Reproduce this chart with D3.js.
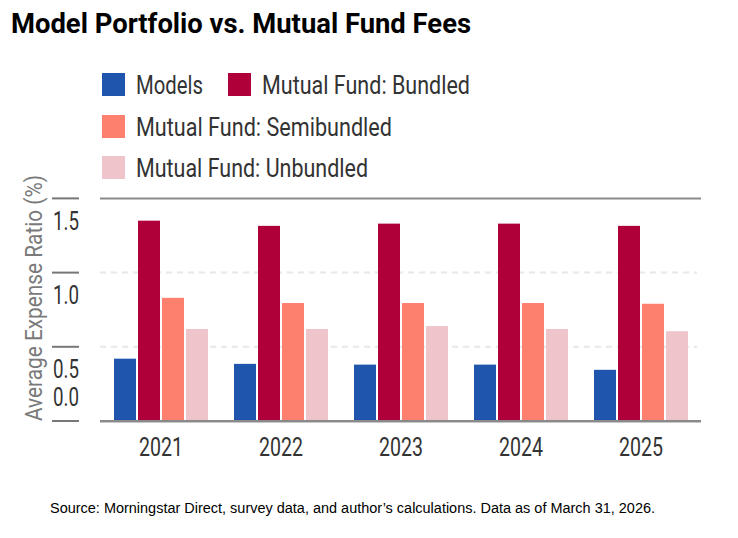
<!DOCTYPE html>
<html><head><meta charset="utf-8">
<script src="https://cdn.jsdelivr.net/npm/d3@7/dist/d3.min.js"></script>
<style>
html,body{margin:0;padding:0;background:#fff;}
svg{display:block;}
</style></head>
<body><svg id="chart" width="738" height="538"></svg>
<script>
const years = ["2021","2022","2023","2024","2025"];
const seriesNames = ["Models","Mutual Fund: Bundled","Mutual Fund: Semibundled","Mutual Fund: Unbundled"];
const models      = [0.42, 0.385, 0.38, 0.38, 0.345];
const bundled     = [1.35, 1.315, 1.33, 1.33, 1.315];
const semibundled = [0.83, 0.795, 0.795, 0.795, 0.79];
const unbundled   = [0.62, 0.62, 0.64, 0.62, 0.605];
const yTicks = [0, 0.5, 1.0, 1.5];
const colors = ["#1f55ad","#b0003a","#fd806f","#efc5cb"];

const seriesVals = [models, bundled, semibundled, unbundled];
const NARROW = "Roboto,'Liberation Sans Narrow','DejaVu Sans Condensed',sans-serif";
const svg = d3.select("#chart");

// title
svg.append("text").attr("x",11).attr("y",33)
  .attr("font-family",NARROW).attr("font-weight","bold").attr("font-size",28)
  .attr("fill","#000").attr("textLength",460).attr("lengthAdjust","spacingAndGlyphs")
  .text("Model Portfolio vs. Mutual Fund Fees");

// legend
const legendPos = [[102,73,203],[228,73,470],[102,115,392],[102,156,368]];
seriesNames.forEach((n,i)=>{
  const [lx,ly,ex] = legendPos[i];
  svg.append("rect").attr("x",lx).attr("y",ly).attr("width",23).attr("height",23).attr("fill",colors[i]);
  svg.append("text").attr("x",lx+34).attr("y",ly+21)
    .attr("font-family",NARROW).attr("font-size",25).attr("fill","#333")
    .attr("textLength",ex-(lx+34)).attr("lengthAdjust","spacingAndGlyphs").text(n);
});

// scales
const x0 = d3.scaleBand().domain(years).range([101,701]).paddingInner(0.2167).paddingOuter(0.2167/2);
const x1 = d3.scaleBand().domain(d3.range(4)).range([0,x0.bandwidth()]).paddingInner(2/24).paddingOuter(0);
const y = d3.scaleLinear().domain([0,1.5]).range([421,198.4]);

// gridlines
yTicks.forEach(t=>{
  const isEdge = (t===0 || t===1.5);
  svg.append("line").attr("x1",100).attr("x2",isEdge?701:697)
    .attr("y1",y(t)).attr("y2",y(t))
    .attr("stroke",isEdge?"#8a8a8a":"#e8e8e8").attr("stroke-width",2)
    .attr("stroke-dasharray",isEdge?null:"6,5");
  svg.append("line").attr("x1",52).attr("x2",79).attr("y1",y(t)).attr("y2",y(t))
    .attr("stroke","#777").attr("stroke-width",2);
  svg.append("text").attr("x",53).attr("y",Math.min(y(t)+25,y(0)-22))
    .attr("dominant-baseline","middle")
    .attr("font-family",NARROW).attr("font-size",25).attr("fill","#333")
    .attr("textLength",26).attr("lengthAdjust","spacingAndGlyphs")
    .text(d3.format(".1f")(t));
});

// bars
const g = svg.append("g");
years.forEach((yr,yi)=>{
  seriesVals.forEach((vals,si)=>{
    g.append("rect")
      .attr("x",x0(yr)+x1(si)).attr("width",x1.bandwidth())
      .attr("y",y(vals[yi])).attr("height",y(0)-y(vals[yi]))
      .attr("fill",colors[si]);
  });
});
// baseline over bars
svg.append("line").attr("x1",100).attr("x2",701).attr("y1",y(0)).attr("y2",y(0))
  .attr("stroke","#8a8a8a").attr("stroke-width",2);
svg.append("line").attr("x1",100).attr("x2",701).attr("y1",y(0)+1.5).attr("y2",y(0)+1.5)
  .attr("stroke","#c8c8c8").attr("stroke-width",1);

// x labels
years.forEach(yr=>{
  svg.append("text").attr("x",x0(yr)+x0.bandwidth()/2).attr("y",456)
    .attr("text-anchor","middle").attr("font-family",NARROW).attr("font-size",25)
    .attr("fill","#333").attr("textLength",44).attr("lengthAdjust","spacingAndGlyphs").text(yr);
});

// y title
svg.append("text").attr("transform","translate(42,298) rotate(-90)")
  .attr("text-anchor","middle").attr("font-family",NARROW).attr("font-size",24)
  .attr("fill","#7a7a7a").attr("textLength",246).attr("lengthAdjust","spacingAndGlyphs")
  .text("Average Expense Ratio (%)");

// source
svg.append("text").attr("x",50).attr("y",513)
  .attr("font-family","'Liberation Sans',Arial,sans-serif").attr("font-size",14)
  .attr("fill","#000").attr("textLength",605).attr("lengthAdjust","spacingAndGlyphs")
  .text("Source: Morningstar Direct, survey data, and author’s calculations. Data as of March 31, 2026.");
</script></body></html>
